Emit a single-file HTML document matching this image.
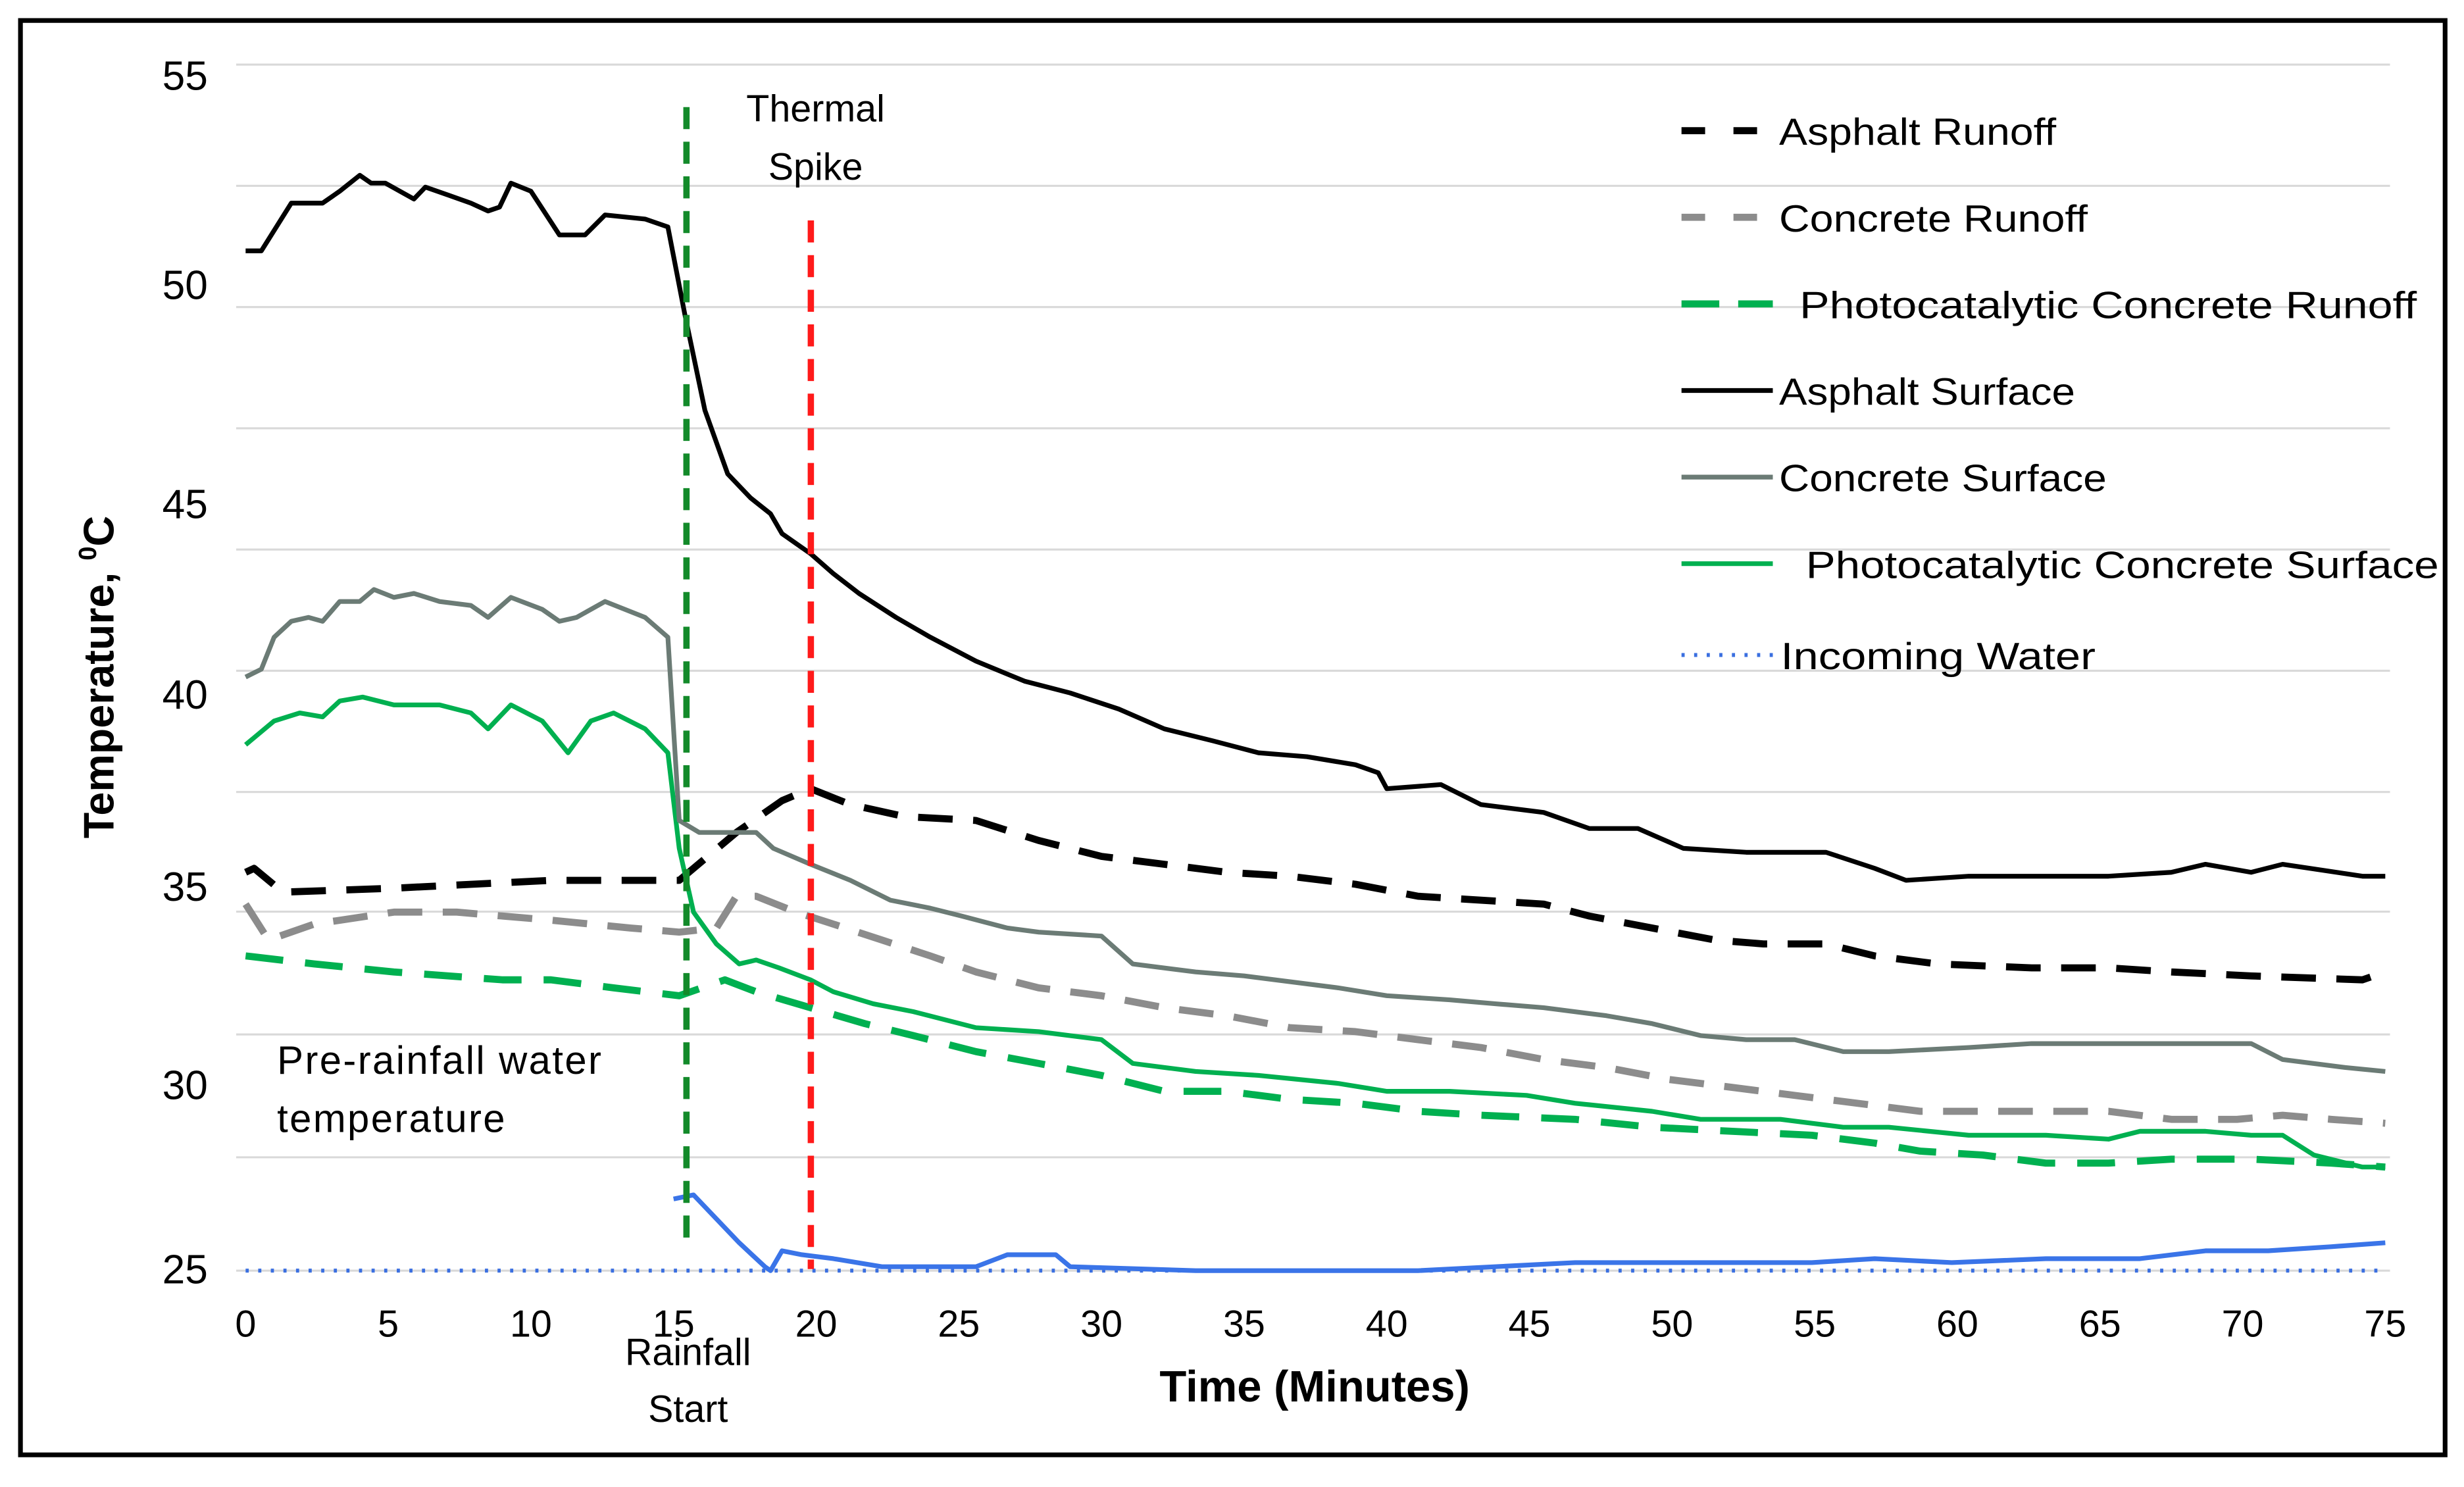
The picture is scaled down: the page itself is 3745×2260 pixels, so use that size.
<!DOCTYPE html>
<html><head><meta charset="utf-8"><style>
html,body{margin:0;padding:0;background:#fff;}
svg{display:block;}
text{font-family:"Liberation Sans",sans-serif;fill:#000;}
</style></head><body>
<svg id="chart" width="3745" height="2260" viewBox="0 0 1565 944.4" xmlns="http://www.w3.org/2000/svg">
<rect x="13" y="13" width="1540" height="911" fill="#fff" stroke="#000" stroke-width="3"/>
<g id="grid"></g>
<g id="series"></g>
<g id="ticks"></g>
<line x1="436" y1="68" x2="436" y2="792" stroke="#138a2a" stroke-width="4" stroke-dasharray="14,8"/>
<line x1="515" y1="140" x2="515" y2="806" stroke="#ff1a1a" stroke-width="4" stroke-dasharray="14,8"/>
<text x="518" y="77" font-size="24" text-anchor="middle">Thermal</text>
<text x="518" y="114" font-size="24" text-anchor="middle">Spike</text>
<text x="437" y="867" font-size="24" text-anchor="middle">Rainfall</text>
<text x="437" y="903" font-size="24" text-anchor="middle">Start</text>
<text x="176" y="682" font-size="25" letter-spacing="1">Pre-rainfall water</text>
<text x="176" y="719" font-size="25" letter-spacing="1">temperature</text>
<text x="835" y="890" font-size="28" font-weight="bold" text-anchor="middle">Time (Minutes)</text>
<text transform="translate(72,430) rotate(-90)" font-size="27" font-weight="bold" text-anchor="middle">Temperature, <tspan font-size="16" dy="-11">0</tspan><tspan dy="11">C</tspan></text>
<g id="legend"></g>
</svg>
<script>
const minutes=[0,5,10,15,20,25,30,35,40,45,50,55,60,65,70,75];
const tempTicks=[55,50,45,40,35,30,25];
const asphaltSurfT=[0,0.55,1.6,2.7,3.3,4.0,4.4,4.9,5.9,6.3,7.1,7.9,8.5,8.9,9.3,10.0,11.0,11.9,12.6,14.0,14.8,15.4,16.1,16.9,17.7,18.4,18.8,19.8,20.6,21.5,22.8,24.0,25.6,27.3,28.9,30.6,32.2,33.9,35.5,37.2,38.9,39.7,40.0,41.9,43.3,45.5,47.1,48.8,50.4,52.6,55.4,57.1,58.2,60.4,65.3,67.5,68.7,70.3,71.4,74.2,75];
const asphaltSurfV=[50.6,50.6,51.8,51.8,52.1,52.5,52.3,52.3,51.9,52.2,52.0,51.8,51.6,51.7,52.3,52.1,51.0,51.0,51.5,51.4,51.2,49.0,46.6,45.0,44.4,44.0,43.5,43.0,42.5,42.0,41.4,40.9,40.3,39.8,39.5,39.1,38.6,38.3,38.0,37.9,37.7,37.5,37.1,37.2,36.7,36.5,36.1,36.1,35.6,35.5,35.5,35.1,34.8,34.9,34.9,35.0,35.2,35.0,35.2,34.9,34.9];
const concSurfT=[0,0.55,1.0,1.6,2.2,2.7,3.3,4.0,4.5,5.2,5.9,6.8,7.9,8.5,9.3,10.4,11.0,11.6,12.6,14.0,14.8,15.2,15.9,16.8,17.9,18.5,19.8,21.2,22.6,24.0,25.1,26.7,27.8,30.0,31.1,33.3,35.0,38.3,40.0,42.2,43.8,45.5,47.7,49.3,51.0,52.6,54.3,56.0,57.6,60.4,62.6,65.3,67.5,68.7,70.3,71.4,73.6,75];
const concSurfV=[39.9,40.1,40.9,41.3,41.4,41.3,41.8,41.8,42.1,41.9,42.0,41.8,41.7,41.4,41.9,41.6,41.3,41.4,41.8,41.4,40.9,36.3,36.0,36.0,36.0,35.6,35.2,34.8,34.3,34.1,33.9,33.6,33.5,33.4,32.7,32.5,32.4,32.1,31.9,31.8,31.7,31.6,31.4,31.2,30.9,30.8,30.8,30.5,30.5,30.6,30.7,30.7,30.7,30.7,30.7,30.3,30.1,30.0];
const photoSurfT=[0,1.0,1.9,2.7,3.3,4.1,5.2,6.8,7.9,8.5,9.3,10.4,11.3,12.1,12.9,14.0,14.8,15.2,15.7,16.5,17.3,17.9,18.7,19.8,20.6,22.0,23.4,25.6,27.8,30.0,31.1,33.3,35.5,38.3,40.0,42.2,44.9,46.6,49.3,51.0,52.1,53.8,56.0,57.6,60.4,63.1,65.3,66.4,68.7,70.3,71.4,72.5,74.2,75];
const photoSurfV=[38.2,38.8,39.0,38.9,39.3,39.4,39.2,39.2,39.0,38.6,39.2,38.8,38.0,38.8,39.0,38.6,38.0,35.6,34.0,33.2,32.7,32.8,32.6,32.3,32.0,31.7,31.5,31.1,31.0,30.8,30.2,30.0,29.9,29.7,29.5,29.5,29.4,29.2,29.0,28.8,28.8,28.8,28.6,28.6,28.4,28.4,28.3,28.5,28.5,28.4,28.4,27.9,27.6,27.6];
const asphaltRunT=[0,0.3,1.3,5.2,10.7,15.2,17.2,18.8,19.8,21.2,23.1,25.6,27.8,30.0,32.2,34.4,36.6,38.9,41.1,43.3,45.5,47.1,49.3,51.5,53.2,55.4,57.1,59.3,62.6,65.3,67.5,70.3,74.2,75];
const asphaltRunV=[35.0,35.1,34.5,34.6,34.8,34.8,36.0,36.8,37.1,36.7,36.4,36.3,35.8,35.4,35.2,35.0,34.9,34.7,34.4,34.3,34.2,33.9,33.6,33.3,33.2,33.2,32.9,32.7,32.6,32.6,32.5,32.4,32.3,32.5];
const concRunT=[0,0.8,2.4,5.2,7.4,10.7,13.5,15.2,16.5,17.2,17.9,19.3,20.6,22.3,24.0,25.6,27.8,30.0,32.2,34.4,36.6,38.9,41.1,43.3,45.5,47.7,49.9,52.1,54.3,56.5,58.7,62.0,65.3,67.5,69.8,71.4,73.1,75];
const concRunV=[34.2,33.3,33.7,34.0,34.0,33.8,33.6,33.5,33.6,34.4,34.4,34.0,33.7,33.3,32.9,32.5,32.1,31.9,31.6,31.4,31.1,31.0,30.8,30.6,30.3,30.1,29.8,29.6,29.4,29.2,29.0,29.0,29.0,28.8,28.8,28.9,28.8,28.7];
const photoRunT=[0,2.4,5.2,9.0,10.7,12.9,15.2,16.8,17.9,19.8,21.7,23.4,25.6,27.8,30.0,32.2,34.4,36.6,38.9,41.1,43.3,46.6,49.3,52.1,54.9,57.1,58.7,60.9,63.1,65.3,67.5,70.3,73.1,75];
const photoRunV=[32.9,32.7,32.5,32.3,32.3,32.1,31.9,32.3,32.0,31.6,31.2,30.9,30.5,30.2,29.9,29.5,29.5,29.3,29.2,29.0,28.9,28.8,28.6,28.5,28.4,28.2,28.0,27.9,27.7,27.7,27.8,27.8,27.7,27.6];
const waterT=[15.0,15.7,16.5,17.3,18.2,18.4,18.8,19.5,20.6,22.3,25.6,26.7,28.4,28.9,33.3,41.1,46.6,54.9,57.1,59.8,63.1,66.4,68.7,70.9,73.1,75];
const waterV=[26.8,26.9,26.3,25.7,25.1,25.0,25.5,25.4,25.3,25.1,25.1,25.4,25.4,25.1,25.0,25.0,25.2,25.2,25.3,25.2,25.3,25.3,25.5,25.5,25.6,25.7];
const incomingBaseline=[25.0,25.0];
const legendLabels=["Asphalt Runoff","Concrete Runoff","Photocatalytic Concrete Runoff","Asphalt Surface","Concrete Surface","Photocatalytic Concrete Surface","Incoming Water"];

const NS="http://www.w3.org/2000/svg";
const X0=156,X1=1515;
function xs(t){return X0+(t/75)*(X1-X0);}
function ys(v){return 807-(v-25)*25.3;}
function mk(tag,attrs,parent){const e=document.createElementNS(NS,tag);for(const k in attrs)e.setAttribute(k,attrs[k]);parent.appendChild(e);return e;}

const grid=document.getElementById('grid');
[41,118,195,272,349,426,503,579,657,735,807].forEach((gy,i)=>{
  const l=mk('line',{x1:150,x2:1518,y1:gy,y2:gy,stroke:'#d9d9d9','stroke-width':1.3},grid);
  
  
});

const ticks=document.getElementById('ticks');
const yLabelPos={55:57,50:190,45:329,40:450,35:572,30:698,25:815};
tempTicks.forEach(v=>{
  const t=mk('text',{x:132,y:yLabelPos[v],'font-size':26,'text-anchor':'end'},ticks);
  t.textContent=v;
  
  
});
minutes.forEach(m=>{
  const t=mk('text',{x:xs(m),y:849,'font-size':24,'text-anchor':'middle'},ticks);
  t.textContent=m;
  
  
});

const sg=document.getElementById('series');
function line(T,V,style,name){
  const d=T.map((t,i)=>(i?'L':'M')+xs(t).toFixed(1)+','+ys(V[i]).toFixed(1)).join('');
  const p=mk('path',Object.assign({d:d,fill:'none','stroke-linejoin':'round'},style),sg);
  
  
}
const styles={
 ar:{stroke:'#000','stroke-width':4.5,'stroke-dasharray':'22,13'},
 cr:{stroke:'#8c8c8c','stroke-width':4.5,'stroke-dasharray':'22,13'},
 pr:{stroke:'#00b050','stroke-width':4.5,'stroke-dasharray':'24,14'},
 as:{stroke:'#000','stroke-width':3},
 cs:{stroke:'#6b7b75','stroke-width':3},
 ps:{stroke:'#00b050','stroke-width':3},
 iw:{stroke:'#3a6fe0','stroke-width':2.5,'stroke-dasharray':'2,6'}
};
line([0,75],incomingBaseline,styles.iw,'incoming-water-baseline');
line(photoRunT,photoRunV,styles.pr,'photocatalytic-runoff-line');
line(concRunT,concRunV,styles.cr,'concrete-runoff-line');
line(asphaltRunT,asphaltRunV,styles.ar,'asphalt-runoff-line');
line(photoSurfT,photoSurfV,styles.ps,'photocatalytic-surface-line');
line(concSurfT,concSurfV,styles.cs,'concrete-surface-line');
line(asphaltSurfT,asphaltSurfV,styles.as,'asphalt-surface-line');
line(waterT,waterV,{stroke:'#3a74e8','stroke-width':3},'incoming-water-line');

const lg=document.getElementById('legend');
const lgY=[83,138,193,248,303,358,416];
const lgKeys=['ar','cr','pr','as','cs','ps','iw'];
const lgX=[1130,1130,1143,1130,1130,1147,1131];
const lgW=[176,196,392,188,208,402,200];
legendLabels.forEach((lab,i)=>{
  const s=Object.assign({},styles[lgKeys[i]]);
  if(lgKeys[i]==='ar'||lgKeys[i]==='cr') s['stroke-dasharray']='15,18';
  if(lgKeys[i]==='pr') s['stroke-dasharray']='24,12';
  const sw=mk('line',Object.assign({x1:1068,x2:1126,y1:lgY[i],y2:lgY[i]},s),lg);
  
  
  const t=mk('text',{x:lgX[i],y:lgY[i]+9,'font-size':24,textLength:lgW[i],lengthAdjust:'spacingAndGlyphs'},lg);
  t.textContent=lab;
  
  
});
</script>
</body></html>
